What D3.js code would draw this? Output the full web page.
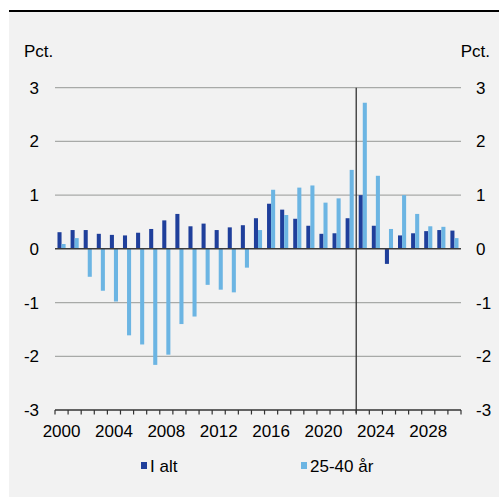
<!DOCTYPE html>
<html><head><meta charset="utf-8">
<script src="https://cdn.jsdelivr.net/npm/d3@7"></script>
<style>body{margin:0;background:#fff}svg{display:block}</style>
</head><body>
<script>
const years = d3.range(2000, 2031);
const iAlt = [0.31,0.35,0.35,0.28,0.26,0.25,0.30,0.37,0.53,0.65,0.42,0.47,0.35,0.40,0.44,0.57,0.84,0.73,0.56,0.43,0.28,0.29,0.57,1.00,0.43,-0.28,0.25,0.29,0.33,0.35,0.34];
const age2540 = [0.09,0.20,-0.52,-0.78,-0.98,-1.61,-1.78,-2.16,-1.97,-1.40,-1.26,-0.67,-0.76,-0.81,-0.35,0.35,1.10,0.63,1.14,1.18,0.86,0.94,1.47,2.72,1.36,0.37,1.00,0.65,0.42,0.41,0.20];
const yTicks = [-3,-2,-1,0,1,2,3];
const xLabels = [2000,2004,2008,2012,2016,2020,2024,2028];
const seriesNames = ["I alt","25-40 år"];
const colors = ["#1f3f9b","#6cb5e3"];
const splitYear = 2023;

const W=499,H=497;
const svg=d3.select("body").append("svg").attr("width",W).attr("height",H);
svg.append("rect").attr("x",9).attr("y",12).attr("width",W-9).attr("height",485).attr("fill","#f2f2f2");
svg.append("line").attr("x1",9).attr("x2",W).attr("y1",11).attr("y2",11).attr("stroke","#000").attr("stroke-width",2);

const x=d3.scaleBand().domain(years).range([55,461]);
const y=d3.scaleLinear().domain([-3,3]).range([410,87.7]);
const font="'Liberation Sans', Arial, sans-serif";
const fs=17;

// gridlines
svg.append("g").selectAll("line").data(yTicks.filter(t=>t!==-3&&t!==0)).join("line")
  .attr("x1",55).attr("x2",461).attr("y1",d=>y(d)).attr("y2",d=>y(d))
  .attr("stroke","#a8aaa8").attr("stroke-width",1.3);

// bars
const bw=x.bandwidth(), w=bw*0.31, off=(bw-2*w)/2;
[iAlt,age2540].forEach((vals,si)=>{
  svg.append("g").selectAll("rect").data(vals).join("rect")
    .attr("x",(d,i)=>x(years[i])+off+si*w)
    .attr("width",w)
    .attr("y",d=>y(Math.max(0,d)))
    .attr("height",d=>Math.abs(y(d)-y(0)))
    .attr("fill",colors[si]);
});

// zero line
svg.append("line").attr("x1",55).attr("x2",461).attr("y1",y(0)).attr("y2",y(0)).attr("stroke","#3a3a3a").attr("stroke-width",1.5);

// split line
svg.append("line").attr("x1",x(splitYear)).attr("x2",x(splitYear)).attr("y1",y(3)).attr("y2",y(-3)+3)
  .attr("stroke","#333").attr("stroke-width",1.3);

// bottom axis
const gx=svg.append("g");
gx.append("line").attr("x1",55).attr("x2",461).attr("y1",y(-3)).attr("y2",y(-3)).attr("stroke","#333").attr("stroke-width",1.3);
gx.selectAll("line.t").data(years.concat([2031])).join("line").attr("class","t")
  .attr("x1",d=>d===2031?461:x(d)).attr("x2",d=>d===2031?461:x(d))
  .attr("y1",y(-3)).attr("y2",y(-3)+4.5).attr("stroke","#333").attr("stroke-width",1.2);
gx.selectAll("text").data(xLabels).join("text")
  .attr("x",d=>x(d)+bw/2).attr("y",y(-3)+27).attr("text-anchor","middle")
  .attr("font-family",font).attr("font-size",fs).attr("fill","#000").text(d=>d);

// y labels
svg.append("g").selectAll("text").data(yTicks).join("text")
  .attr("x",39).attr("y",d=>y(d)+6).attr("text-anchor","end")
  .attr("font-family",font).attr("font-size",fs).attr("fill","#000").text(d=>d);
svg.append("g").selectAll("text").data(yTicks).join("text")
  .attr("x",476).attr("y",d=>y(d)+6).attr("text-anchor","start")
  .attr("font-family",font).attr("font-size",fs).attr("fill","#000").text(d=>d);

svg.append("text").attr("x",24).attr("y",57).attr("font-family",font).attr("font-size",fs).text("Pct.");
svg.append("text").attr("x",490).attr("y",57).attr("text-anchor","end").attr("font-family",font).attr("font-size",fs).text("Pct.");

// legend
const lx=[141,301];
seriesNames.forEach((n,i)=>{
  svg.append("rect").attr("x",lx[i]).attr("y",462).attr("width",6).attr("height",7).attr("fill",colors[i]);
  svg.append("text").attr("x",lx[i]+9).attr("y",472).attr("font-family",font).attr("font-size",fs).text(n);
});
</script>
</body></html>
